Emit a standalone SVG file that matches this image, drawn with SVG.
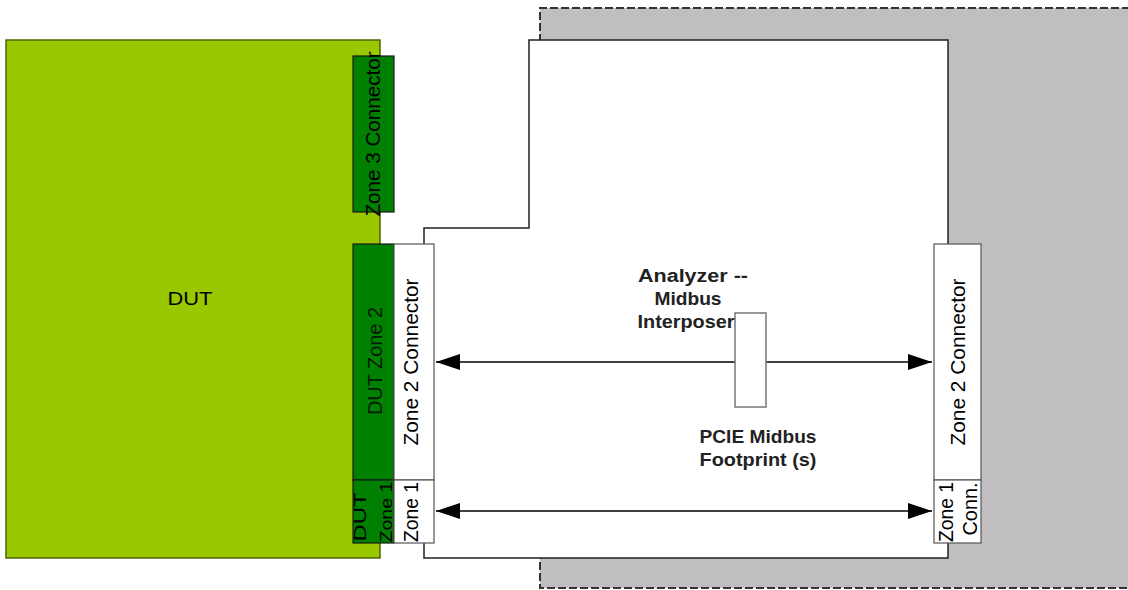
<svg xmlns="http://www.w3.org/2000/svg" width="1128" height="590" viewBox="0 0 1128 590">
<style>
text{font-family:"Liberation Sans",Arial,sans-serif;font-size:20px;fill:#000}
.h{font-size:19px}
.s{font-size:17px}
.b{font-weight:bold;fill:#222;font-size:18px}
.dk{fill:#008000;stroke:#1a1a1a;stroke-width:1.2}
.wh{fill:#fff;stroke:#555;stroke-width:1.2}
.ln{stroke:#000;stroke-width:1.5;fill:none}
</style>
<defs>
<marker id="ah" viewBox="0 0 24 16" refX="24" refY="8" markerWidth="24" markerHeight="16" markerUnits="userSpaceOnUse" orient="auto-start-reverse">
<path d="M0,0 L24,8 L0,16 Z" fill="#000"/>
</marker>
</defs>
<g id="analyzer-region">
<path d="M1130,8 H540 V588 H1130" fill="#c0bec1" stroke="#333" stroke-width="2" stroke-dasharray="8,3"/>
</g>
<g id="interposer-board">
<path d="M529,40 H948 V558 H424 V228 H529 Z" fill="#fff" stroke="#222" stroke-width="1.5"/>
</g>
<g id="dut">
<rect x="6" y="40" width="374" height="518" fill="#99c800" stroke="#4d6600" stroke-width="1.5"/>
<text class="h" x="190" y="305" text-anchor="middle" textLength="45" lengthAdjust="spacingAndGlyphs">DUT</text>
</g>
<g id="zone3-connector">
<rect class="dk" x="353" y="56" width="41" height="156"/>
<text transform="translate(380,134) rotate(-90)" text-anchor="middle" textLength="165" lengthAdjust="spacingAndGlyphs">Zone 3 Connector</text>
</g>
<g id="dut-zone2">
<rect class="dk" x="353" y="244" width="41" height="236"/>
<text transform="translate(382,361) rotate(-90)" text-anchor="middle" textLength="108" lengthAdjust="spacingAndGlyphs" style="fill:#041a04">DUT Zone 2</text>
</g>
<g id="dut-zone1">
<rect class="dk" x="353" y="480" width="41" height="63"/>
<text class="s" transform="translate(366,517) rotate(-90)" text-anchor="middle" textLength="49" lengthAdjust="spacingAndGlyphs">DUT</text>
<text class="s" transform="translate(392,512) rotate(-90)" text-anchor="middle" textLength="61" lengthAdjust="spacingAndGlyphs">Zone 1</text>
</g>
<g id="left-zone2-connector">
<rect class="wh" x="394" y="244" width="40" height="236"/>
<text transform="translate(418,362) rotate(-90)" text-anchor="middle" textLength="167" lengthAdjust="spacingAndGlyphs">Zone 2 Connector</text>
</g>
<g id="left-zone1">
<rect class="wh" x="394" y="480" width="40" height="63"/>
<text transform="translate(418,512) rotate(-90)" text-anchor="middle" textLength="60" lengthAdjust="spacingAndGlyphs">Zone 1</text>
</g>
<g id="right-zone2-connector">
<rect class="wh" x="934" y="244" width="47" height="236"/>
<text transform="translate(965,362) rotate(-90)" text-anchor="middle" textLength="167" lengthAdjust="spacingAndGlyphs">Zone 2 Connector</text>
</g>
<g id="right-zone1-conn">
<rect class="wh" x="934" y="480" width="47" height="63"/>
<text transform="translate(953,512) rotate(-90)" text-anchor="middle" textLength="60" lengthAdjust="spacingAndGlyphs">Zone 1</text>
<text transform="translate(977,509) rotate(-90)" text-anchor="middle" textLength="53" lengthAdjust="spacingAndGlyphs">Conn.</text>
</g>
<g id="connectors">
<line class="ln" x1="436" y1="362" x2="932" y2="362" marker-start="url(#ah)" marker-end="url(#ah)"/>
<line class="ln" x1="436" y1="511" x2="932" y2="511" marker-start="url(#ah)" marker-end="url(#ah)"/>
</g>
<g id="midbus-footprint">
<rect x="735" y="313" width="31" height="94" fill="#fff" stroke="#777" stroke-width="1.5"/>
</g>
<g id="labels">
<text class="b" x="693" y="282" text-anchor="middle" textLength="110" lengthAdjust="spacingAndGlyphs">Analyzer --</text>
<text class="b" x="688" y="305" text-anchor="middle" textLength="67" lengthAdjust="spacingAndGlyphs">Midbus</text>
<text class="b" x="686" y="328" text-anchor="middle" textLength="97" lengthAdjust="spacingAndGlyphs">Interposer</text>
<text class="b" x="758" y="443" text-anchor="middle" textLength="117" lengthAdjust="spacingAndGlyphs">PCIE Midbus</text>
<text class="b" x="758" y="466" text-anchor="middle" textLength="117" lengthAdjust="spacingAndGlyphs">Footprint (s)</text>
</g>
</svg>
